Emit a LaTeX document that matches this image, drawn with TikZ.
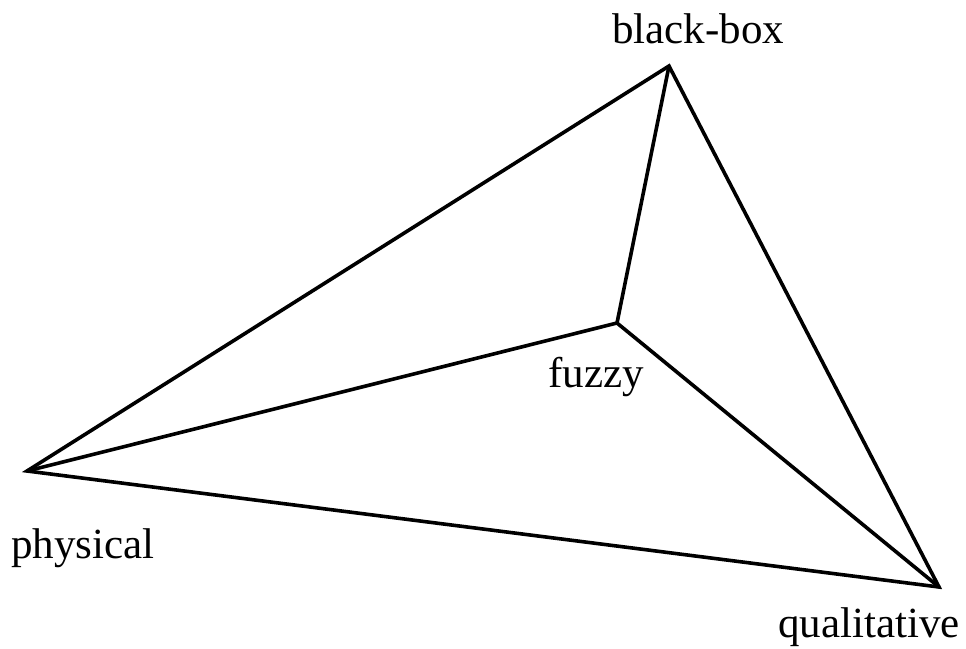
\documentclass[tikz,border=0pt]{standalone}
\usepackage{fontspec}
\setmainfont{Liberation Serif}
\begin{document}
\begin{tikzpicture}[x=1pt,y=-1pt,
  edge/.style={line width=3.6pt,line join=miter},
  lbl/.style={inner sep=0pt,anchor=base west,font=\fontsize{43}{50}\selectfont}]
\useasboundingbox (0,0) rectangle (966,648);
\coordinate (B) at (669,66);
\coordinate (P) at (27,471);
\coordinate (Q) at (939,587);
\coordinate (F) at (617,323);
\draw[edge] (P) -- (B) -- (Q) -- cycle;
\draw[edge] (P) -- (F);
\draw[edge] (B) -- (F);
\draw[edge] (Q) -- (F);
\node[lbl] (lb) at (612,43) {black-box};
\node[lbl] (lf) at (548,387) {fuzzy};
\node[lbl] (lp) at (11,558) {physical};
\node[lbl] (lq) at (778,637) {qualitative};
\end{tikzpicture}
\end{document}
